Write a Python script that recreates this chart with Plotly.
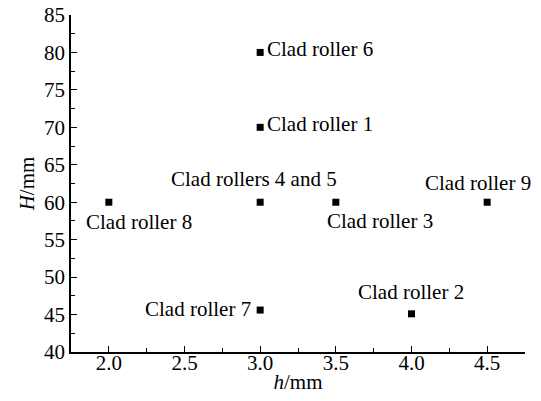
import plotly.graph_objects as go

# Clad roller positions: h (mm) versus H (mm)
labels = ["Clad roller 1", "Clad roller 2", "Clad roller 3", "Clad rollers 4 and 5",
          "Clad roller 6", "Clad roller 7", "Clad roller 8", "Clad roller 9"]
h_mm = [3.0, 4.0, 3.5, 3.0, 3.0, 3.0, 2.0, 4.5]
H_mm = [70.0, 45.1, 60.0, 60.0, 80.0, 45.6, 60.0, 60.0]

# label placement per point: (xanchor, xshift, yshift)
placement = [("left", 5, 3), ("center", -1, 22), ("center", 44, -19), ("center", -6, 23),
             ("left", 5, 3), ("right", -7, 1), ("center", 30, -20), ("center", -9, 19)]

FONT = "Liberation Serif"
FS = 21

fig = go.Figure()
fig.add_trace(go.Scatter(
    x=h_mm, y=H_mm, mode="markers",
    marker=dict(symbol="square", size=7, color="black"),
    showlegend=False, hoverinfo="skip",
))

for lab, x, y, (xa, xs, ys) in zip(labels, h_mm, H_mm, placement):
    fig.add_annotation(x=x, y=y, text=lab, showarrow=False,
                       xanchor=xa, yanchor="middle", xshift=xs, yshift=ys,
                       font=dict(family=FONT, size=FS, color="black"))

axis_common = dict(
    showline=True, linecolor="black", linewidth=1.5, mirror=False,
    ticks="inside", ticklen=6, tickwidth=1, tickcolor="black",
    showgrid=False, zeroline=False, automargin=False,
    tickfont=dict(family=FONT, size=FS, color="black"),
)

fig.update_xaxes(
    range=[1.75, 4.75], tick0=2.0, dtick=0.5, tickformat=".1f",
    ticklabelstandoff=-9,
    minor=dict(ticks="inside", ticklen=4, dtick=0.25, tick0=2.0, tickcolor="black"),
    title=dict(text="<i>h</i>/mm", font=dict(family=FONT, size=FS, color="black"), standoff=0),
    **axis_common,
)
fig.update_yaxes(
    range=[40, 85], tick0=40, dtick=5,
    minor=dict(ticks="inside", ticklen=4, dtick=2.5, tick0=40, tickcolor="black"),
    title=dict(text="<i>H</i>/mm", font=dict(family=FONT, size=FS, color="black"), standoff=4),
    **axis_common,
)

fig.update_layout(
    width=541, height=401,
    margin=dict(l=71, r=16, t=15, b=49),
    paper_bgcolor="white", plot_bgcolor="white",
    font=dict(family=FONT, color="black"),
)

fig.write_html("out.html")
